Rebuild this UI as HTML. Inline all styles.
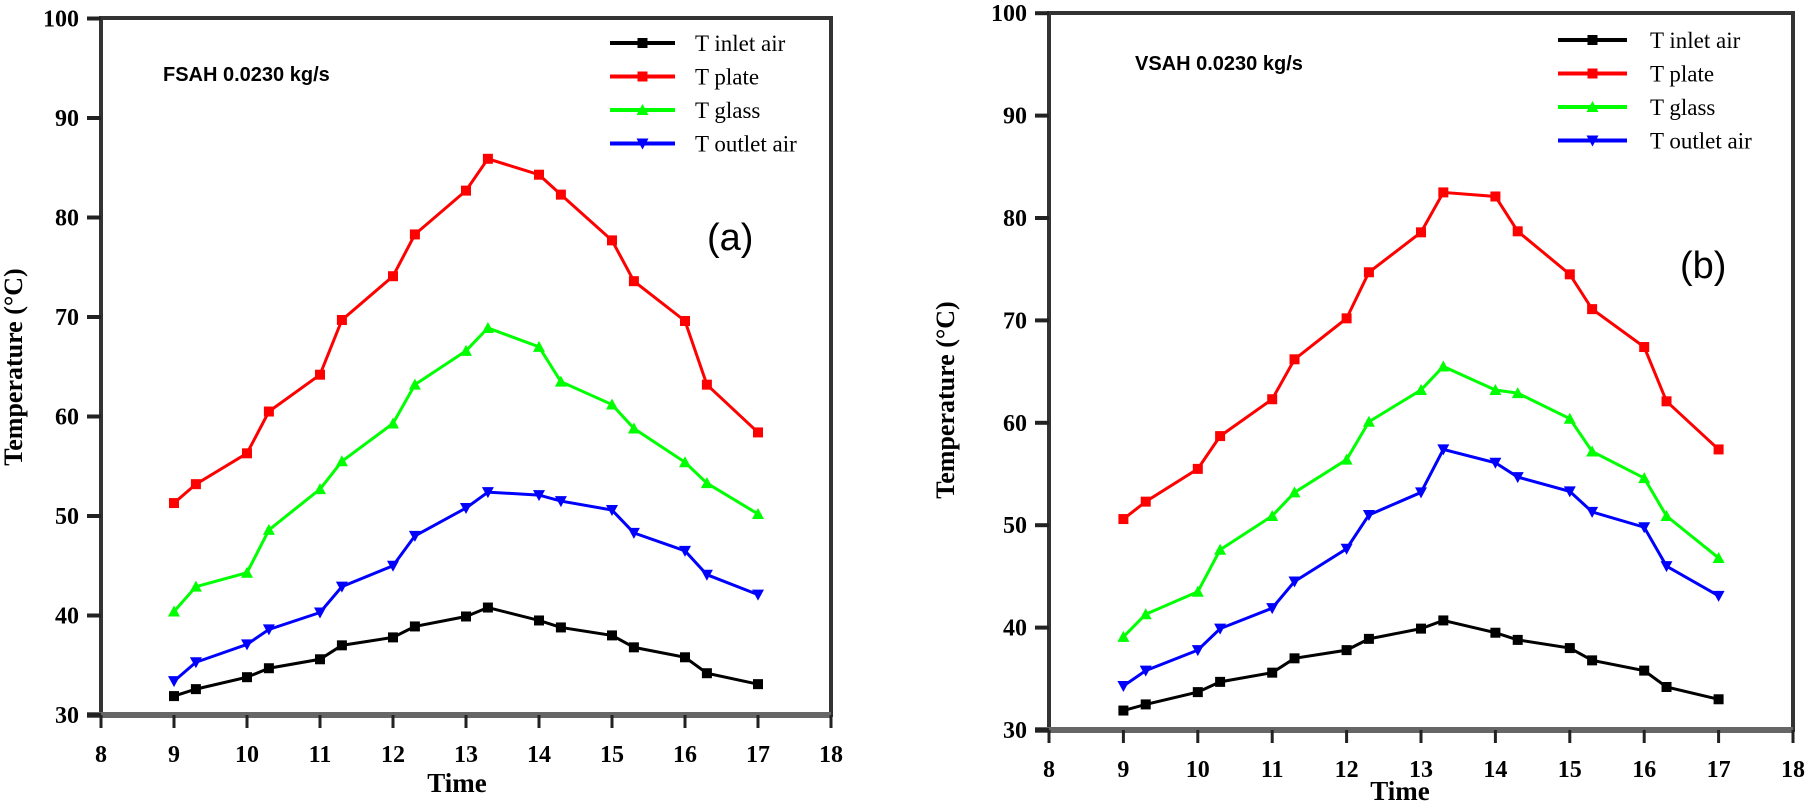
<!DOCTYPE html>
<html><head><meta charset="utf-8"><style>
html,body{margin:0;padding:0;background:#fff}
svg{display:block}
text{font-family:"Liberation Serif",serif}
</style></head><body>
<svg id="s" width="1809" height="807" xmlns="http://www.w3.org/2000/svg"></svg>
<script>
const s=document.getElementById('s');let h='';
const X=[9,9.3,10,10.3,11,11.3,12,12.3,13,13.3,14,14.3,15,15.3,16,16.3,17];
const charts=[
{x0:101,dx:73,y30:715,dy:9.95,top:18,label:'FSAH 0.0230 kg/s',lx:163,ly:81,tag:'(a)',tx:707,ty:250,ylx:22,yly:367,leg:[610,675,695,43],timeX:457,timeY:792,
data:[[31.9,32.6,33.8,34.7,35.6,37,37.8,38.9,39.9,40.8,39.5,38.8,38,36.8,35.8,34.2,33.1],
[51.3,53.2,56.3,60.5,64.2,69.7,74.1,78.3,82.7,85.9,84.3,82.3,77.7,73.6,69.6,63.2,58.4],
[40.4,42.9,44.3,48.6,52.7,55.5,59.3,63.2,66.6,68.9,67,63.5,61.2,58.8,55.4,53.3,50.2],
[33.4,35.3,37.1,38.6,40.3,42.9,45,48,50.8,52.4,52.1,51.5,50.6,48.3,46.5,44.1,42.1]]},
{x0:1049,dx:74.4,y30:730,dy:10.24,top:13,label:'VSAH 0.0230 kg/s',lx:1135,ly:70,tag:'(b)',tx:1680,ty:278,ylx:954,yly:400,leg:[1558,1627,1650,40],timeX:1400,timeY:800,
data:[[31.9,32.5,33.7,34.7,35.6,37,37.8,38.9,39.9,40.7,39.5,38.8,38,36.8,35.8,34.2,33],
[50.6,52.3,55.5,58.7,62.3,66.2,70.2,74.7,78.6,82.5,82.1,78.7,74.5,71.1,67.4,62.1,57.4],
[39.1,41.3,43.5,47.6,50.9,53.2,56.4,60.1,63.2,65.5,63.2,62.9,60.4,57.2,54.6,50.9,46.8],
[34.3,35.8,37.8,39.9,41.9,44.5,47.7,51,53.2,57.4,56.1,54.7,53.3,51.3,49.8,46,43.1]]}];
const cols=['#000','#f00','#0f0','#00f'];const names=['T inlet air','T plate','T glass','T outlet air'];
function mk(t,x,y,c){if(t==0||t==1)return `<rect x="${x-5}" y="${y-5}" width="10" height="10" fill="${c}"/>`;
if(t==2)return `<polygon points="${x},${y-6} ${x-6},${y+5} ${x+6},${y+5}" fill="${c}"/>`;
return `<polygon points="${x},${y+6} ${x-6},${y-5} ${x+6},${y-5}" fill="${c}"/>`;}
for(const c of charts){
 const px=v=>c.x0+(v-8)*c.dx, py=v=>c.y30-(v-30)*c.dy;
 const L=c.x0,R=px(18),T=c.top,B=c.y30;
 h+=`<rect x="${L}" y="${T}" width="${R-L}" height="${B-T}" fill="none" stroke="#333" stroke-width="4"/>`;
 h+=`<line x1="${L-14}" y1="${B}" x2="${R}" y2="${B}" stroke="#666" stroke-width="6"/>`;
 for(let i=8;i<=18;i++){h+=`<line x1="${px(i)}" y1="${B}" x2="${px(i)}" y2="${B+13}" stroke="#222" stroke-width="3"/>`;
  h+=`<text x="${px(i)}" y="${B+47}" font-size="24" font-weight="bold" text-anchor="middle">${i}</text>`;}
 for(let v=30;v<=100;v+=10){h+=`<line x1="${L-14}" y1="${py(v)}" x2="${L}" y2="${py(v)}" stroke="#222" stroke-width="4"/>`;
  h+=`<text x="${L-22}" y="${py(v)+8}" font-size="24" font-weight="bold" text-anchor="end">${v}</text>`;}
 h+=`<text x="${c.timeX}" y="${c.timeY}" font-size="27" font-weight="bold" text-anchor="middle">Time</text>`;
 h+=`<text transform="translate(${c.ylx},${c.yly}) rotate(-90)" font-size="26" font-weight="bold" text-anchor="middle">Temperature (°C)</text>`;
 h+=`<text x="${c.lx}" y="${c.ly}" font-size="20" font-weight="bold" style="font-family:'Liberation Sans',sans-serif">${c.label}</text>`;
 h+=`<text x="${c.tx}" y="${c.ty}" font-size="38" style="font-family:'Liberation Sans',sans-serif">${c.tag}</text>`;
 c.data.forEach((d,k)=>{h+=`<polyline fill="none" stroke="${cols[k]}" stroke-width="3" points="${d.map((v,i)=>px(X[i])+','+py(v)).join(' ')}"/>`;
  d.forEach((v,i)=>h+=mk(k,px(X[i]),py(v),cols[k]));
  const [a,b,tx,y0]=c.leg,y=y0+k*33.5;
  h+=`<line x1="${a}" y1="${y}" x2="${b}" y2="${y}" stroke="${cols[k]}" stroke-width="4"/>`+mk(k,(a+b)/2,y,cols[k]);
  h+=`<text x="${tx}" y="${y+8}" font-size="23">${names[k]}</text>`;});
}
s.innerHTML=h;
</script>
</body></html>
